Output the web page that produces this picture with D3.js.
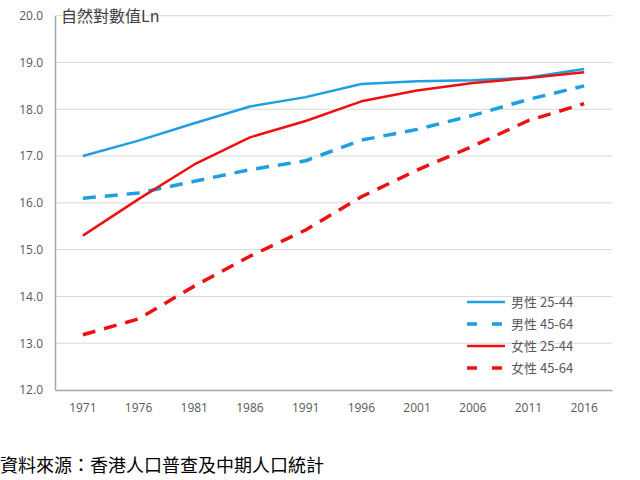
<!DOCTYPE html>
<html><head><meta charset="utf-8">
<script src="https://cdn.jsdelivr.net/npm/d3@7"></script>
<style>body{margin:0;background:#fff}svg{display:block}</style>
</head><body>
<svg id="c" width="640" height="480"></svg>
<script>
const years = ["1971","1976","1981","1986","1991","1996","2001","2006","2011","2016"];
const male2544   = [17.00,17.33,17.70,18.06,18.26,18.54,18.60,18.62,18.68,18.86];
const male4564   = [16.10,16.21,16.46,16.71,16.90,17.34,17.57,17.87,18.21,18.50];
const female2544 = [15.30,16.08,16.82,17.40,17.75,18.17,18.40,18.56,18.67,18.79];
const female4564 = [13.18,13.52,14.22,14.86,15.42,16.13,16.70,17.21,17.76,18.12];
const yTicks = [12,13,14,15,16,17,18,19,20];
const seriesNames = ["男性 25-44","男性 45-64","女性 25-44","女性 45-64"];
const yTitle = "自然對數值Ln";
const source = "資料來源：香港人口普查及中期人口統計";

const series = [
  {name: seriesNames[0], values: male2544, color: "#1ea0e0", dash: null, w: 2.5},
  {name: seriesNames[1], values: male4564, color: "#1ea0e0", dash: "13,9", w: 3.5},
  {name: seriesNames[2], values: female2544, color: "#ee1111", dash: null, w: 2.5},
  {name: seriesNames[3], values: female4564, color: "#ee1111", dash: "13,9", w: 3.5}
];

const svg = d3.select("#c");
const L = 55, R = 612, T = 15.7, B = 390;
const x = d3.scaleBand().domain(years).range([L, R]);
const y = d3.scaleLinear().domain([12, 20]).range([B, T]);
const font = "'Open Sans','Liberation Sans','Noto Sans CJK TC',sans-serif";

// gridlines
svg.append("g").selectAll("line").data(yTicks.filter(d => d > 12)).join("line")
  .attr("x1", L).attr("x2", R).attr("y1", d => y(d)).attr("y2", d => y(d))
  .attr("stroke", "#d9d9d9").attr("stroke-width", 1);

// y axis
const ya = svg.append("g").attr("transform", `translate(${L},0)`)
  .call(d3.axisLeft(y).tickValues(yTicks).tickFormat(d3.format(".1f")).tickSize(0).tickPadding(12));
ya.select(".domain").attr("stroke", "#a6a6a6").attr("stroke-width", 1.5);
ya.selectAll("text").attr("fill", "#595959").style("font-size", "12px").style("font-family", font);

// x axis
const xa = svg.append("g").attr("transform", `translate(0,${B})`)
  .call(d3.axisBottom(x).tickSize(0).tickPadding(13));
xa.select(".domain").attr("stroke", "#a6a6a6").attr("stroke-width", 1.5);
xa.selectAll("text").attr("fill", "#595959").style("font-size", "12px").style("font-family", font);

// lines
const line = d3.line().x((d, i) => x(years[i]) + x.bandwidth() / 2).y(d => y(d));
svg.append("g").selectAll("path").data(series).join("path")
  .attr("d", d => line(d.values))
  .attr("fill", "none").attr("stroke", d => d.color).attr("stroke-width", d => d.w)
  .attr("stroke-dasharray", d => d.dash).attr("stroke-linejoin", "round");

// title
svg.append("text").attr("x", 61).attr("y", 22).text(yTitle)
  .attr("fill", "#404040").style("font-size", "16px").style("font-family", "'Noto Sans CJK TC',sans-serif");

// legend
const lg = svg.append("g").selectAll("g").data(series).join("g")
  .attr("transform", (d, i) => `translate(467,${302 + i * 22})`);
lg.append("line").attr("x1", 0).attr("x2", 38).attr("y1", 0).attr("y2", 0)
  .attr("stroke", d => d.color).attr("stroke-width", d => d.w).attr("stroke-dasharray", d => d.dash ? "10,15" : null);
lg.append("text").attr("x", 44).attr("y", 5).text(d => d.name)
  .attr("fill", "#595959").style("font-size", "13px").style("font-family", "'Noto Sans CJK TC',sans-serif");

// source
svg.append("text").attr("x", 0).attr("y", 472).text(source)
  .attr("fill", "#000").style("font-size", "18px").style("font-family", "'Noto Sans CJK TC',serif");
</script>
</body></html>
